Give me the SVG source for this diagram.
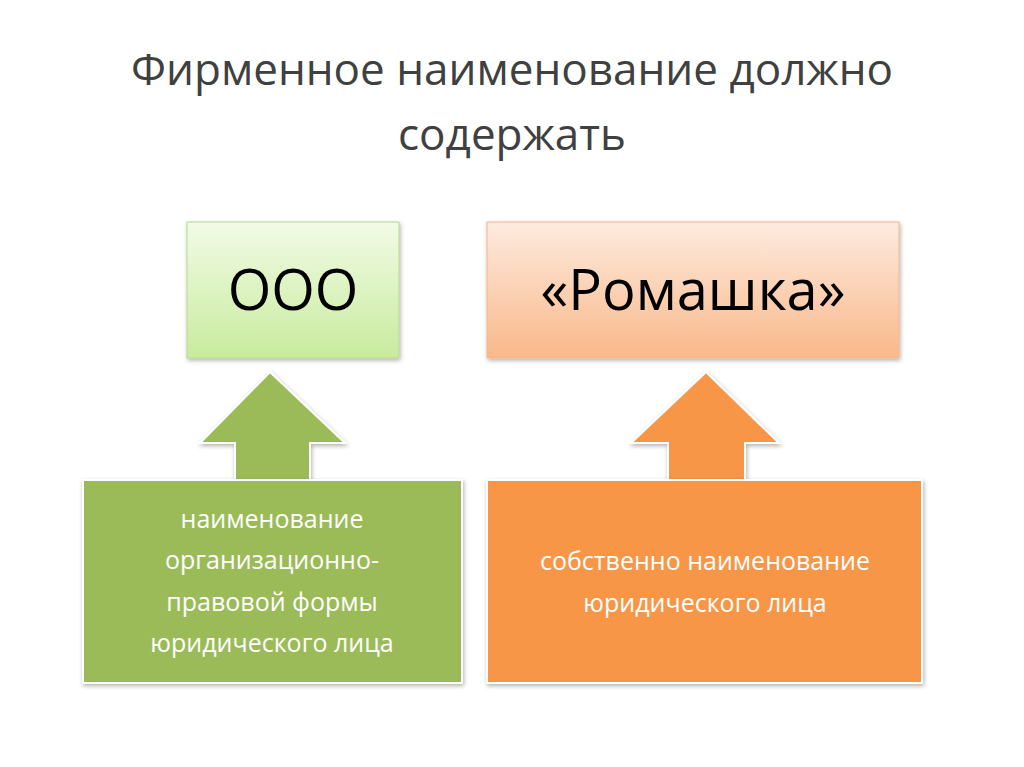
<svg xmlns="http://www.w3.org/2000/svg" width="1024" height="767" viewBox="0 0 1024 767">
<defs>
<linearGradient id="gG" x1="0" y1="0" x2="0" y2="1"><stop offset="0" stop-color="#f2fbe6"/><stop offset="1" stop-color="#c8eb9d"/></linearGradient>
<linearGradient id="gO" x1="0" y1="0" x2="0" y2="1"><stop offset="0" stop-color="#fdebdf"/><stop offset="1" stop-color="#f9b88a"/></linearGradient>
<filter id="sh" x="-10%" y="-10%" width="130%" height="130%"><feDropShadow dx="1" dy="2" stdDeviation="2" flood-color="#000" flood-opacity="0.3"/></filter>
</defs>
<style>
text{font-family:"Open Sans","Noto Sans",sans-serif;text-anchor:middle}
.t{font-size:44px;fill:#404040}
.b{font-size:56px;fill:#000}
.w{font-size:25px;fill:#fff}
</style>
<rect width="1024" height="767" fill="#fff"/>
<text class="t" x="512" y="85">Фирменное наименование должно</text>
<text class="t" x="512" y="150">содержать</text>
<g id="ooo"><rect x="187" y="222" width="212" height="136" fill="url(#gG)" stroke="#b5d88e" filter="url(#sh)"/><text class="b" x="293" y="310">ООО</text></g>
<g id="romashka"><rect x="487" y="222" width="412" height="136" fill="url(#gO)" stroke="#f5b48a" filter="url(#sh)"/><text class="b" x="693" y="310">«Ромашка»</text></g>
<g id="connectors">
<polygon points="270,372 345,443 310,443 310,482 235,482 235,443 200,443" fill="#9bbb59" stroke="#fff" stroke-width="2" filter="url(#sh)"/>
<polygon points="706,372 779,443 745,443 745,482 668,482 668,443 631,443" fill="#f79646" stroke="#fff" stroke-width="2" filter="url(#sh)"/>
</g>
<g id="opf"><rect x="83" y="480" width="379" height="203" fill="#9bbb59" stroke="#fff" stroke-width="2" filter="url(#sh)"/>
<text class="w" x="272" y="528">наименование</text><text class="w" x="272" y="569">организационно-</text><text class="w" x="272" y="611">правовой формы</text><text class="w" x="272" y="652">юридического лица</text></g>
<g id="name"><rect x="487" y="480" width="435" height="203" fill="#f79646" stroke="#fff" stroke-width="2" filter="url(#sh)"/>
<text class="w" x="705" y="570">собственно наименование</text><text class="w" x="705" y="612">юридического лица</text></g>
</svg>
